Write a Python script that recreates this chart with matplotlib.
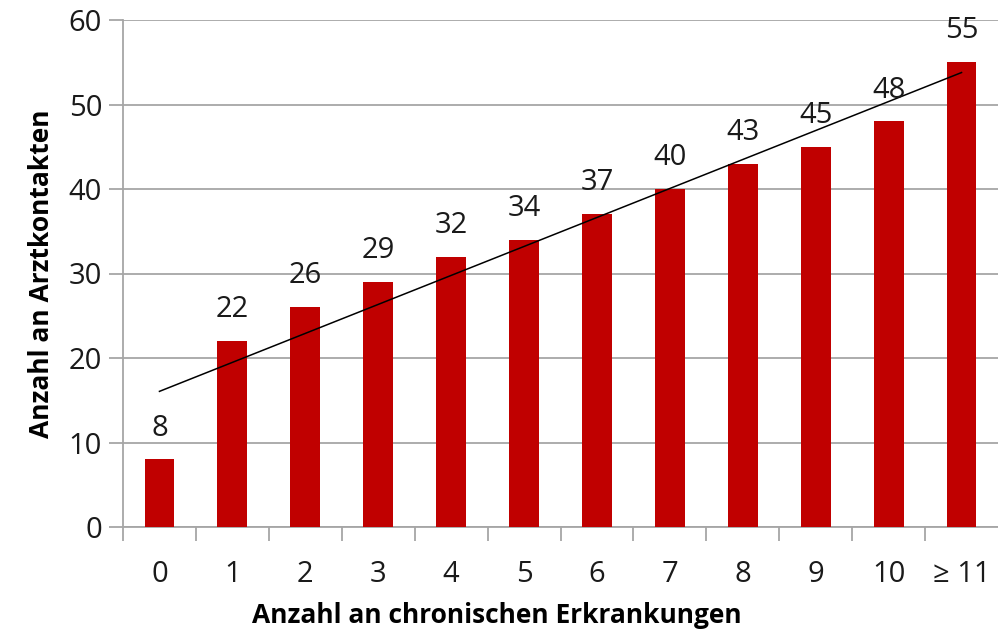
import matplotlib
matplotlib.use("Agg")
import matplotlib.pyplot as plt
import numpy as np

categories = ["0", "1", "2", "3", "4", "5", "6", "7", "8", "9", "10", "≥ 11"]
values = [8, 22, 26, 29, 32, 34, 37, 40, 43, 45, 48, 55]
y_ticks = [0, 10, 20, 30, 40, 50, 60]

plt.rcParams['font.family'] = ['Open Sans', 'DejaVu Sans']

fig = plt.figure(figsize=(9.98, 6.35), dpi=100)
ax = fig.add_axes([123/998, 108/635, 1 - 123/998, (527-20)/635])

x = np.arange(len(categories))
ax.bar(x, values, width=0.41, color="#C00000", zorder=3)

# linear trend line
coef = np.polyfit(x, values, 1)
ax.plot(x, np.polyval(coef, x), color="black", lw=1.1, zorder=4)

for xi, v in zip(x, values):
    ax.text(xi, v + 2.0, str(v), ha="center", va="bottom", fontsize=21, color="#1a1a1a", zorder=5)

ax.set_xlim(-0.5, len(categories) - 0.5)
ax.set_ylim(0, 60)
ax.set_yticks(y_ticks)
ax.set_yticklabels([str(t) for t in y_ticks])
ax.yaxis.grid(True, color="#A6A6A6", lw=1.3, zorder=0)
ax.set_axisbelow(True)

ax.set_xticks(x)
ax.set_xticklabels(categories)
ax.set_xticks(np.arange(-0.5, len(categories) - 0.5, 1), minor=True)
ax.tick_params(axis="x", which="major", length=0, pad=24, labelsize=21, labelcolor="#1a1a1a")
ax.tick_params(axis="x", which="minor", length=10, width=1.3, color="#A6A6A6", direction="out")
ax.tick_params(axis="y", which="major", length=10, width=1.3, color="#A6A6A6", labelsize=21, labelcolor="#1a1a1a", pad=5)

for s in ["top", "right"]:
    ax.spines[s].set_visible(False)
ax.spines["left"].set_color("#A6A6A6")
ax.spines["left"].set_linewidth(1.3)
ax.spines["bottom"].set_color("#A6A6A6")
ax.spines["bottom"].set_linewidth(1.3)

ax.set_xlabel("Anzahl an chronischen Erkrankungen", fontsize=19, fontweight="bold")
ax.xaxis.set_label_coords((497 - 123) / 875, -0.148)
ax.set_ylabel("Anzahl an Arztkontakten", fontsize=19, fontweight="bold", labelpad=10)

fig.savefig("out.png", dpi=100)
